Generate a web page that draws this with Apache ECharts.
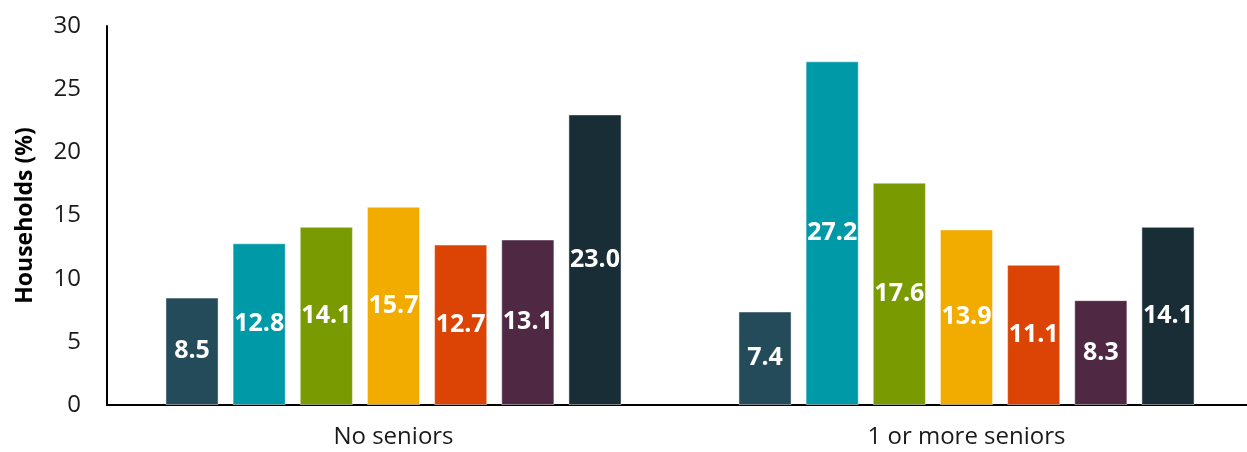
<!DOCTYPE html>
<html>
<head>
<meta charset="utf-8">
<script src="https://cdn.jsdelivr.net/npm/echarts@6/dist/echarts.min.js"></script>
<style>
  html, body { margin: 0; padding: 0; background: #ffffff; overflow: hidden; }
  /* canvas runs a few pixels past the window so the x-axis line reaches the border */
  #chart { width: 1253px; height: 452px; }
</style>
</head>
<body>
<div id="chart"></div>
<script>
// Household groups on the category axis
const categories = ['No seniors', '1 or more seniors'];

// Share of households (%) for each of the seven groups, per category
const series1 = [8.5, 7.4];
const series2 = [12.8, 27.2];
const series3 = [14.1, 17.6];
const series4 = [15.7, 13.9];
const series5 = [12.7, 11.1];
const series6 = [13.1, 8.3];
const series7 = [23.0, 14.1];

const seriesNames = ['Group 1', 'Group 2', 'Group 3', 'Group 4', 'Group 5', 'Group 6', 'Group 7'];
const seriesValues = [series1, series2, series3, series4, series5, series6, series7];
const seriesColors = ['#244B5A', '#0099A8', '#7A9A01', '#F2AC00', '#DC4405', '#4F2844', '#182D36'];

// Y-axis range
const yMin = 0;
const yMax = 30;
const yStep = 5;

const FONT = '"Open Sans", "Noto Sans", sans-serif';

const chart = echarts.init(document.getElementById('chart'), null, { renderer: 'canvas' });

chart.setOption({
  animation: false,
  backgroundColor: '#ffffff',
  grid: { left: 107, right: 0, top: 26, bottom: 47, containLabel: false },
  xAxis: {
    type: 'category',
    data: categories,
    axisLine: { show: true, lineStyle: { color: '#000000', width: 2 } },
    axisTick: { show: false },
    axisLabel: { color: '#1a1a1a', fontFamily: FONT, fontSize: 24, margin: 20 }
  },
  yAxis: {
    type: 'value',
    min: yMin,
    max: yMax,
    interval: yStep,
    name: 'Households (%)',
    nameLocation: 'middle',
    nameGap: 70,
    nameTextStyle: { color: '#000000', fontFamily: FONT, fontSize: 23, fontWeight: 'bold' },
    axisLine: { show: true, lineStyle: { color: '#000000', width: 2 } },
    axisTick: { show: false },
    splitLine: { show: false },
    axisLabel: { color: '#1a1a1a', fontFamily: FONT, fontSize: 24, margin: 26 }
  },
  series: seriesValues.map((vals, i) => ({
    name: seriesNames[i],
    type: 'bar',
    data: vals,
    barGap: '26.4%',
    barCategoryGap: '20.4%',
    itemStyle: {
      color: seriesColors[i],
      borderColor: 'rgba(255,255,255,0.45)',
      borderWidth: 1
    },
    label: {
      show: true,
      position: 'inside',
      color: '#ffffff',
      fontFamily: FONT,
      fontSize: 25,
      fontWeight: 'bold',
      formatter: p => p.value.toFixed(1)
    }
  }))
});
</script>
</body>
</html>
